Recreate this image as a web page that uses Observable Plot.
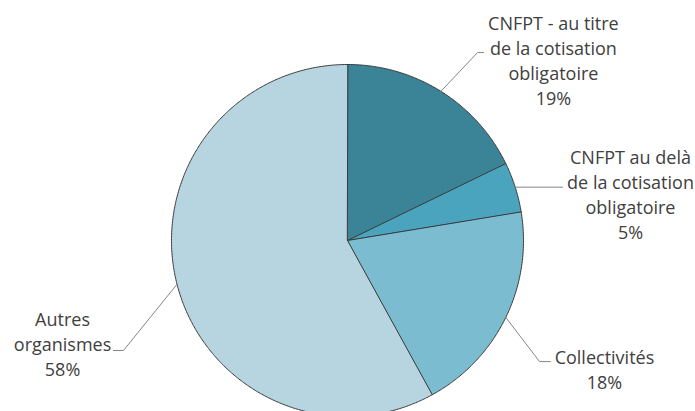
<!DOCTYPE html>
<html><head><meta charset="utf-8">
<script src="https://cdn.jsdelivr.net/npm/d3@7"></script>
<script src="https://cdn.jsdelivr.net/npm/@observablehq/plot@0.6"></script>
<style>body{margin:0;background:#fff}#chart svg{display:block}</style>
</head><body><div id="chart"></div>
<script>
const categories = [
  "CNFPT - au titre de la cotisation obligatoire",
  "CNFPT au delà de la cotisation obligatoire",
  "Collectivités",
  "Autres organismes"
];
const values = [17.8, 4.6, 19.6, 58.0];
const labelTexts = [
  "CNFPT - au titre\nde la cotisation\nobligatoire",
  "CNFPT au delà\nde la cotisation\nobligatoire",
  "Collectivités",
  "Autres\norganismes"
];
const percentLabels = ["19%", "5%", "18%", "58%"];
const colors = ["#3b8397", "#4ba4bd", "#7cbcd1", "#b7d5e0"];

// label layout in scale units (pie radius = 1)
const labelLayout = [
  {tx: 1.170, ty: 1.026, path: [[0.739, 1.068], [0.773, 1.068]]},
  {tx: 1.608, ty: 0.267, path: [[1.222, 0.301]]},
  {tx: 1.460, ty: -0.730, path: [[1.091, -0.688], [1.153, -0.688]]},
  {tx: -1.619, ty: -0.585, path: [[-1.273, -0.625], [-1.330, -0.625]]}
];

const arcs = d3.pie().sort(null).value(d => d)(values);

const slicePts = [];
arcs.forEach((a, i) => {
  const n = Math.max(2, Math.ceil((a.endAngle - a.startAngle) / (Math.PI / 360)));
  slicePts.push({name: categories[i], x: 0, y: 0});
  for (let k = 0; k <= n; k++) {
    const t = a.startAngle + (a.endAngle - a.startAngle) * k / n;
    slicePts.push({name: categories[i], x: Math.sin(t), y: Math.cos(t)});
  }
});

const leaderPts = [];
const labelData = [];
arcs.forEach((a, i) => {
  const mid = (a.startAngle + a.endAngle) / 2;
  const L = labelLayout[i];
  leaderPts.push({id: i, x: Math.sin(mid), y: Math.cos(mid)});
  L.path.forEach(p => leaderPts.push({id: i, x: p[0], y: p[1]}));
  if (L.path.length === 1) {
    // horizontal leader: keep same height as the arc midpoint
    leaderPts[leaderPts.length - 1].y = Math.cos(mid);
  }
  labelData.push({x: L.tx, y: L.ty, text: labelTexts[i] + "\n" + percentLabels[i]});
});

const chart = Plot.plot({
  width: 695,
  height: 411,
  margin: 0,
  x: {domain: [-1, 1], range: [171, 523], axis: null},
  y: {domain: [-1, 1], range: [416, 64], axis: null},
  color: {type: "ordinal", domain: categories, range: colors},
  style: {fontFamily: "Open Sans", background: "#fff"},
  marks: [
    Plot.line(slicePts, {x: "x", y: "y", z: "name", fill: "name", stroke: "#3a3a3a", strokeWidth: 1, curve: "linear-closed", strokeLinejoin: "round"}),
    Plot.line(leaderPts, {x: "x", y: "y", z: "id", stroke: "#858585", strokeWidth: 1}),
    Plot.text(labelData, {x: "x", y: "y", text: "text", fontSize: 18, lineHeight: 25 / 18, fill: "#404040", fontFamily: "Open Sans"})
  ]
});
document.getElementById("chart").appendChild(chart);
</script>
</body></html>
